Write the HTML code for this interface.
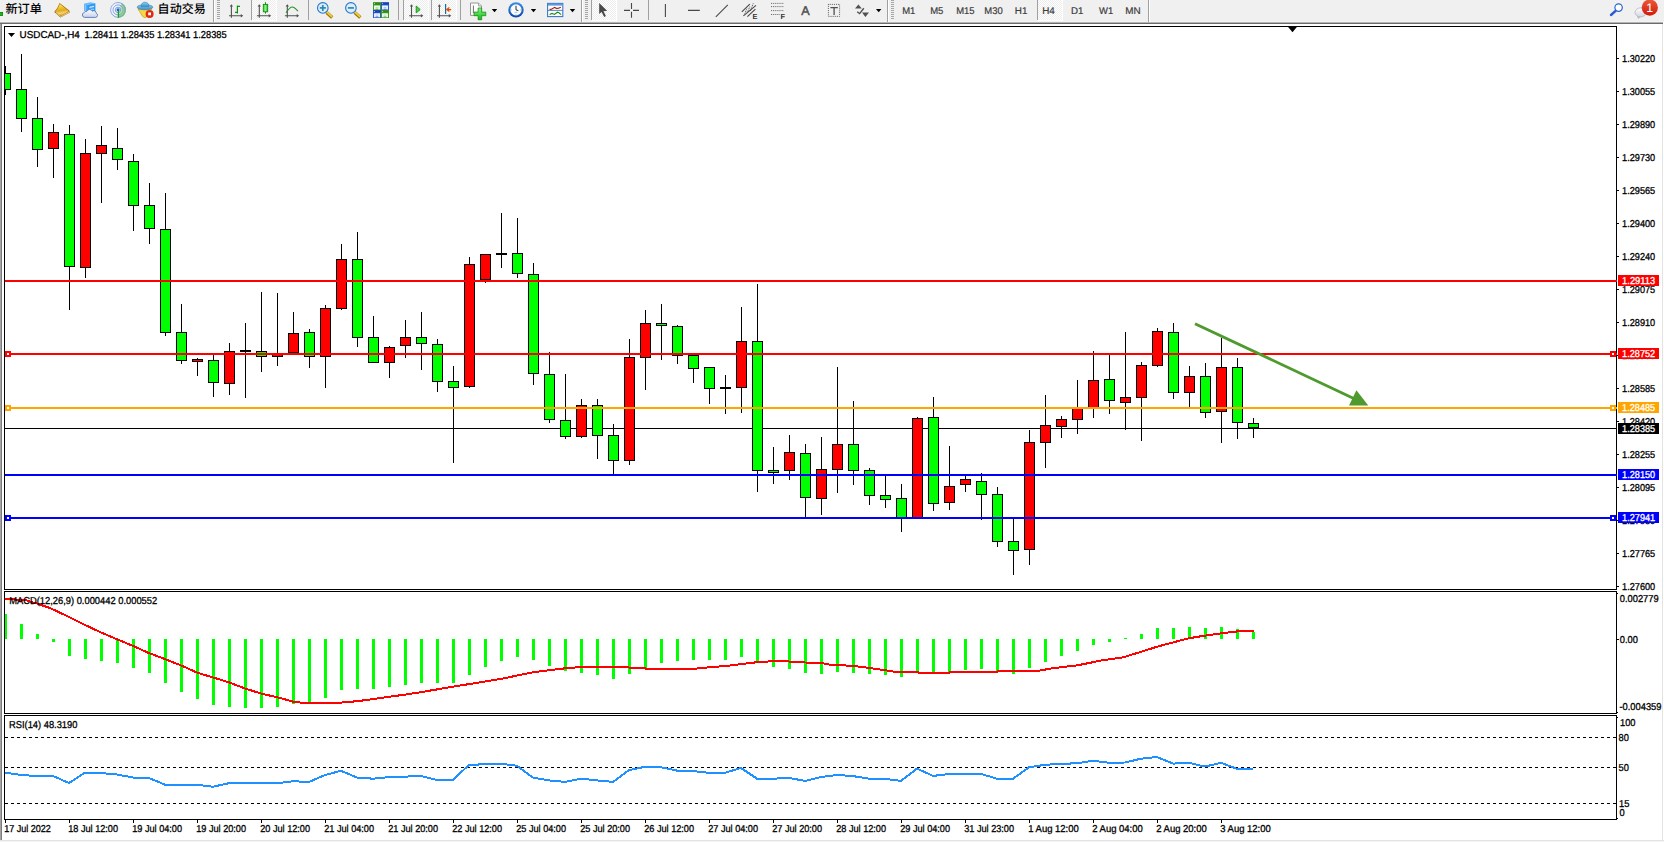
<!DOCTYPE html>
<html lang="zh-CN"><head><meta charset="utf-8"><title>USDCAD-,H4</title>
<style>html,body{margin:0;padding:0;background:#fff;overflow:hidden}svg{display:block}text{font-family:"Liberation Sans","Noto Sans CJK SC",sans-serif;white-space:pre;text-rendering:geometricPrecision}.cj{font-family:"Liberation Sans","Noto Sans CJK SC",sans-serif}</style></head><body>
<svg width="1664" height="842" viewBox="0 0 1664 842">
<rect x="0" y="0" width="1664" height="842" fill="#fff"/>
<g shape-rendering="crispEdges">
<rect x="0" y="24" width="1" height="816" fill="#a4a4a4"/>
<rect x="1" y="24" width="1" height="816" fill="#7c7c7c"/>
<rect x="1662" y="24" width="1" height="816" fill="#e3e3e3"/>
<rect x="0" y="840" width="1664" height="1" fill="#e3e3e3"/>
<rect x="0" y="841" width="1664" height="1" fill="#f4f4f4"/>
<rect x="4" y="26" width="1613" height="1" fill="#000"/>
<rect x="4" y="589" width="1613" height="1" fill="#000"/>
<rect x="4" y="26" width="1" height="564" fill="#000"/>
<rect x="1616" y="26" width="1" height="564" fill="#000"/>
<rect x="4" y="591" width="1613" height="1" fill="#000"/>
<rect x="4" y="713" width="1613" height="1" fill="#000"/>
<rect x="4" y="591" width="1" height="123" fill="#000"/>
<rect x="1616" y="591" width="1" height="123" fill="#000"/>
<rect x="4" y="715" width="1613" height="1" fill="#000"/>
<rect x="4" y="819" width="1613" height="1" fill="#000"/>
<rect x="4" y="715" width="1" height="105" fill="#000"/>
<rect x="1616" y="715" width="1" height="105" fill="#000"/>
<clipPath id="cm"><rect x="5" y="27" width="1611" height="562"/></clipPath>
<g clip-path="url(#cm)">
<rect x="5" y="428" width="1611" height="1" fill="#000"/>
<rect x="5" y="66" width="1" height="29" fill="#000"/>
<rect x="0" y="73" width="11" height="17" fill="#000"/>
<rect x="1" y="74" width="9" height="15" fill="#00ff00"/>
<rect x="21" y="54" width="1" height="78" fill="#000"/>
<rect x="16" y="89" width="11" height="30" fill="#000"/>
<rect x="17" y="90" width="9" height="28" fill="#00ff00"/>
<rect x="37" y="97" width="1" height="70" fill="#000"/>
<rect x="32" y="118" width="11" height="32" fill="#000"/>
<rect x="33" y="119" width="9" height="30" fill="#00ff00"/>
<rect x="53" y="124" width="1" height="54" fill="#000"/>
<rect x="48" y="132" width="11" height="17" fill="#000"/>
<rect x="49" y="133" width="9" height="15" fill="#ff0000"/>
<rect x="69" y="125" width="1" height="185" fill="#000"/>
<rect x="64" y="134" width="11" height="133" fill="#000"/>
<rect x="65" y="135" width="9" height="131" fill="#00ff00"/>
<rect x="85" y="139" width="1" height="139" fill="#000"/>
<rect x="80" y="153" width="11" height="115" fill="#000"/>
<rect x="81" y="154" width="9" height="113" fill="#ff0000"/>
<rect x="101" y="126" width="1" height="77" fill="#000"/>
<rect x="96" y="145" width="11" height="9" fill="#000"/>
<rect x="97" y="146" width="9" height="7" fill="#ff0000"/>
<rect x="117" y="128" width="1" height="42" fill="#000"/>
<rect x="112" y="148" width="11" height="12" fill="#000"/>
<rect x="113" y="149" width="9" height="10" fill="#00ff00"/>
<rect x="133" y="154" width="1" height="77" fill="#000"/>
<rect x="128" y="161" width="11" height="45" fill="#000"/>
<rect x="129" y="162" width="9" height="43" fill="#00ff00"/>
<rect x="149" y="183" width="1" height="61" fill="#000"/>
<rect x="144" y="205" width="11" height="24" fill="#000"/>
<rect x="145" y="206" width="9" height="22" fill="#00ff00"/>
<rect x="165" y="193" width="1" height="143" fill="#000"/>
<rect x="160" y="229" width="11" height="104" fill="#000"/>
<rect x="161" y="230" width="9" height="102" fill="#00ff00"/>
<rect x="181" y="304" width="1" height="60" fill="#000"/>
<rect x="176" y="332" width="11" height="29" fill="#000"/>
<rect x="177" y="333" width="9" height="27" fill="#00ff00"/>
<rect x="197" y="358" width="1" height="18" fill="#000"/>
<rect x="192" y="359" width="11" height="3" fill="#000"/>
<rect x="193" y="360" width="9" height="1" fill="#ff0000"/>
<rect x="213" y="355" width="1" height="42" fill="#000"/>
<rect x="208" y="360" width="11" height="23" fill="#000"/>
<rect x="209" y="361" width="9" height="21" fill="#00ff00"/>
<rect x="229" y="343" width="1" height="52" fill="#000"/>
<rect x="224" y="351" width="11" height="33" fill="#000"/>
<rect x="225" y="352" width="9" height="31" fill="#ff0000"/>
<rect x="245" y="323" width="1" height="75" fill="#000"/>
<rect x="240" y="350" width="11" height="2" fill="#000"/>
<rect x="261" y="292" width="1" height="80" fill="#000"/>
<rect x="256" y="351" width="11" height="6" fill="#000"/>
<rect x="257" y="352" width="9" height="4" fill="#00ff00"/>
<rect x="277" y="293" width="1" height="73" fill="#000"/>
<rect x="272" y="354" width="11" height="3" fill="#000"/>
<rect x="273" y="355" width="9" height="1" fill="#ff0000"/>
<rect x="293" y="312" width="1" height="41" fill="#000"/>
<rect x="288" y="333" width="11" height="20" fill="#000"/>
<rect x="289" y="334" width="9" height="18" fill="#ff0000"/>
<rect x="309" y="329" width="1" height="39" fill="#000"/>
<rect x="304" y="332" width="11" height="25" fill="#000"/>
<rect x="305" y="333" width="9" height="23" fill="#00ff00"/>
<rect x="325" y="305" width="1" height="83" fill="#000"/>
<rect x="320" y="308" width="11" height="49" fill="#000"/>
<rect x="321" y="309" width="9" height="47" fill="#ff0000"/>
<rect x="341" y="244" width="1" height="66" fill="#000"/>
<rect x="336" y="259" width="11" height="50" fill="#000"/>
<rect x="337" y="260" width="9" height="48" fill="#ff0000"/>
<rect x="357" y="232" width="1" height="115" fill="#000"/>
<rect x="352" y="259" width="11" height="79" fill="#000"/>
<rect x="353" y="260" width="9" height="77" fill="#00ff00"/>
<rect x="373" y="316" width="1" height="47" fill="#000"/>
<rect x="368" y="337" width="11" height="26" fill="#000"/>
<rect x="369" y="338" width="9" height="24" fill="#00ff00"/>
<rect x="389" y="346" width="1" height="32" fill="#000"/>
<rect x="384" y="347" width="11" height="16" fill="#000"/>
<rect x="385" y="348" width="9" height="14" fill="#ff0000"/>
<rect x="405" y="320" width="1" height="38" fill="#000"/>
<rect x="400" y="337" width="11" height="9" fill="#000"/>
<rect x="401" y="338" width="9" height="7" fill="#ff0000"/>
<rect x="421" y="312" width="1" height="58" fill="#000"/>
<rect x="416" y="337" width="11" height="7" fill="#000"/>
<rect x="417" y="338" width="9" height="5" fill="#00ff00"/>
<rect x="437" y="339" width="1" height="53" fill="#000"/>
<rect x="432" y="344" width="11" height="38" fill="#000"/>
<rect x="433" y="345" width="9" height="36" fill="#00ff00"/>
<rect x="453" y="366" width="1" height="97" fill="#000"/>
<rect x="448" y="381" width="11" height="7" fill="#000"/>
<rect x="449" y="382" width="9" height="5" fill="#00ff00"/>
<rect x="469" y="257" width="1" height="131" fill="#000"/>
<rect x="464" y="264" width="11" height="123" fill="#000"/>
<rect x="465" y="265" width="9" height="121" fill="#ff0000"/>
<rect x="485" y="254" width="1" height="29" fill="#000"/>
<rect x="480" y="254" width="11" height="26" fill="#000"/>
<rect x="481" y="255" width="9" height="24" fill="#ff0000"/>
<rect x="501" y="213" width="1" height="55" fill="#000"/>
<rect x="496" y="253" width="11" height="2" fill="#000"/>
<rect x="517" y="218" width="1" height="60" fill="#000"/>
<rect x="512" y="253" width="11" height="21" fill="#000"/>
<rect x="513" y="254" width="9" height="19" fill="#00ff00"/>
<rect x="533" y="263" width="1" height="122" fill="#000"/>
<rect x="528" y="274" width="11" height="100" fill="#000"/>
<rect x="529" y="275" width="9" height="98" fill="#00ff00"/>
<rect x="549" y="352" width="1" height="71" fill="#000"/>
<rect x="544" y="374" width="11" height="46" fill="#000"/>
<rect x="545" y="375" width="9" height="44" fill="#00ff00"/>
<rect x="565" y="374" width="1" height="65" fill="#000"/>
<rect x="560" y="420" width="11" height="17" fill="#000"/>
<rect x="561" y="421" width="9" height="15" fill="#00ff00"/>
<rect x="581" y="399" width="1" height="39" fill="#000"/>
<rect x="576" y="405" width="11" height="32" fill="#000"/>
<rect x="577" y="406" width="9" height="30" fill="#ff0000"/>
<rect x="597" y="399" width="1" height="60" fill="#000"/>
<rect x="592" y="405" width="11" height="31" fill="#000"/>
<rect x="593" y="406" width="9" height="29" fill="#00ff00"/>
<rect x="613" y="424" width="1" height="50" fill="#000"/>
<rect x="608" y="435" width="11" height="26" fill="#000"/>
<rect x="609" y="436" width="9" height="24" fill="#00ff00"/>
<rect x="629" y="339" width="1" height="126" fill="#000"/>
<rect x="624" y="357" width="11" height="104" fill="#000"/>
<rect x="625" y="358" width="9" height="102" fill="#ff0000"/>
<rect x="645" y="310" width="1" height="80" fill="#000"/>
<rect x="640" y="323" width="11" height="35" fill="#000"/>
<rect x="641" y="324" width="9" height="33" fill="#ff0000"/>
<rect x="661" y="304" width="1" height="56" fill="#000"/>
<rect x="656" y="323" width="11" height="3" fill="#000"/>
<rect x="657" y="324" width="9" height="1" fill="#00ff00"/>
<rect x="677" y="325" width="1" height="39" fill="#000"/>
<rect x="672" y="326" width="11" height="30" fill="#000"/>
<rect x="673" y="327" width="9" height="28" fill="#00ff00"/>
<rect x="693" y="355" width="1" height="28" fill="#000"/>
<rect x="688" y="355" width="11" height="14" fill="#000"/>
<rect x="689" y="356" width="9" height="12" fill="#00ff00"/>
<rect x="709" y="367" width="1" height="37" fill="#000"/>
<rect x="704" y="367" width="11" height="22" fill="#000"/>
<rect x="705" y="368" width="9" height="20" fill="#00ff00"/>
<rect x="725" y="375" width="1" height="39" fill="#000"/>
<rect x="720" y="387" width="11" height="2" fill="#000"/>
<rect x="741" y="307" width="1" height="106" fill="#000"/>
<rect x="736" y="341" width="11" height="47" fill="#000"/>
<rect x="737" y="342" width="9" height="45" fill="#ff0000"/>
<rect x="757" y="284" width="1" height="208" fill="#000"/>
<rect x="752" y="341" width="11" height="130" fill="#000"/>
<rect x="753" y="342" width="9" height="128" fill="#00ff00"/>
<rect x="773" y="447" width="1" height="37" fill="#000"/>
<rect x="768" y="470" width="11" height="3" fill="#000"/>
<rect x="769" y="471" width="9" height="1" fill="#00ff00"/>
<rect x="789" y="435" width="1" height="45" fill="#000"/>
<rect x="784" y="452" width="11" height="19" fill="#000"/>
<rect x="785" y="453" width="9" height="17" fill="#ff0000"/>
<rect x="805" y="444" width="1" height="73" fill="#000"/>
<rect x="800" y="453" width="11" height="45" fill="#000"/>
<rect x="801" y="454" width="9" height="43" fill="#00ff00"/>
<rect x="821" y="437" width="1" height="78" fill="#000"/>
<rect x="816" y="469" width="11" height="30" fill="#000"/>
<rect x="817" y="470" width="9" height="28" fill="#ff0000"/>
<rect x="837" y="367" width="1" height="126" fill="#000"/>
<rect x="832" y="444" width="11" height="26" fill="#000"/>
<rect x="833" y="445" width="9" height="24" fill="#ff0000"/>
<rect x="853" y="401" width="1" height="84" fill="#000"/>
<rect x="848" y="444" width="11" height="27" fill="#000"/>
<rect x="849" y="445" width="9" height="25" fill="#00ff00"/>
<rect x="869" y="468" width="1" height="37" fill="#000"/>
<rect x="864" y="470" width="11" height="26" fill="#000"/>
<rect x="865" y="471" width="9" height="24" fill="#00ff00"/>
<rect x="885" y="475" width="1" height="33" fill="#000"/>
<rect x="880" y="495" width="11" height="5" fill="#000"/>
<rect x="881" y="496" width="9" height="3" fill="#00ff00"/>
<rect x="901" y="484" width="1" height="48" fill="#000"/>
<rect x="896" y="498" width="11" height="20" fill="#000"/>
<rect x="897" y="499" width="9" height="18" fill="#00ff00"/>
<rect x="917" y="417" width="1" height="101" fill="#000"/>
<rect x="912" y="418" width="11" height="100" fill="#000"/>
<rect x="913" y="419" width="9" height="98" fill="#ff0000"/>
<rect x="933" y="397" width="1" height="114" fill="#000"/>
<rect x="928" y="417" width="11" height="87" fill="#000"/>
<rect x="929" y="418" width="9" height="85" fill="#00ff00"/>
<rect x="949" y="446" width="1" height="64" fill="#000"/>
<rect x="944" y="486" width="11" height="17" fill="#000"/>
<rect x="945" y="487" width="9" height="15" fill="#ff0000"/>
<rect x="965" y="476" width="1" height="16" fill="#000"/>
<rect x="960" y="479" width="11" height="6" fill="#000"/>
<rect x="961" y="480" width="9" height="4" fill="#ff0000"/>
<rect x="981" y="473" width="1" height="47" fill="#000"/>
<rect x="976" y="481" width="11" height="14" fill="#000"/>
<rect x="977" y="482" width="9" height="12" fill="#00ff00"/>
<rect x="997" y="487" width="1" height="60" fill="#000"/>
<rect x="992" y="494" width="11" height="48" fill="#000"/>
<rect x="993" y="495" width="9" height="46" fill="#00ff00"/>
<rect x="1013" y="519" width="1" height="56" fill="#000"/>
<rect x="1008" y="541" width="11" height="10" fill="#000"/>
<rect x="1009" y="542" width="9" height="8" fill="#00ff00"/>
<rect x="1029" y="430" width="1" height="135" fill="#000"/>
<rect x="1024" y="442" width="11" height="108" fill="#000"/>
<rect x="1025" y="443" width="9" height="106" fill="#ff0000"/>
<rect x="1045" y="395" width="1" height="73" fill="#000"/>
<rect x="1040" y="425" width="11" height="18" fill="#000"/>
<rect x="1041" y="426" width="9" height="16" fill="#ff0000"/>
<rect x="1061" y="416" width="1" height="22" fill="#000"/>
<rect x="1056" y="419" width="11" height="8" fill="#000"/>
<rect x="1057" y="420" width="9" height="6" fill="#ff0000"/>
<rect x="1077" y="380" width="1" height="54" fill="#000"/>
<rect x="1072" y="408" width="11" height="12" fill="#000"/>
<rect x="1073" y="409" width="9" height="10" fill="#ff0000"/>
<rect x="1093" y="351" width="1" height="67" fill="#000"/>
<rect x="1088" y="380" width="11" height="28" fill="#000"/>
<rect x="1089" y="381" width="9" height="26" fill="#ff0000"/>
<rect x="1109" y="355" width="1" height="59" fill="#000"/>
<rect x="1104" y="379" width="11" height="22" fill="#000"/>
<rect x="1105" y="380" width="9" height="20" fill="#00ff00"/>
<rect x="1125" y="332" width="1" height="98" fill="#000"/>
<rect x="1120" y="397" width="11" height="6" fill="#000"/>
<rect x="1121" y="398" width="9" height="4" fill="#ff0000"/>
<rect x="1141" y="362" width="1" height="79" fill="#000"/>
<rect x="1136" y="365" width="11" height="33" fill="#000"/>
<rect x="1137" y="366" width="9" height="31" fill="#ff0000"/>
<rect x="1157" y="328" width="1" height="39" fill="#000"/>
<rect x="1152" y="331" width="11" height="35" fill="#000"/>
<rect x="1153" y="332" width="9" height="33" fill="#ff0000"/>
<rect x="1173" y="323" width="1" height="76" fill="#000"/>
<rect x="1168" y="332" width="11" height="61" fill="#000"/>
<rect x="1169" y="333" width="9" height="59" fill="#00ff00"/>
<rect x="1189" y="366" width="1" height="41" fill="#000"/>
<rect x="1184" y="376" width="11" height="17" fill="#000"/>
<rect x="1185" y="377" width="9" height="15" fill="#ff0000"/>
<rect x="1205" y="363" width="1" height="55" fill="#000"/>
<rect x="1200" y="376" width="11" height="37" fill="#000"/>
<rect x="1201" y="377" width="9" height="35" fill="#00ff00"/>
<rect x="1221" y="338" width="1" height="105" fill="#000"/>
<rect x="1216" y="367" width="11" height="45" fill="#000"/>
<rect x="1217" y="368" width="9" height="43" fill="#ff0000"/>
<rect x="1237" y="358" width="1" height="81" fill="#000"/>
<rect x="1232" y="367" width="11" height="56" fill="#000"/>
<rect x="1233" y="368" width="9" height="54" fill="#00ff00"/>
<rect x="1253" y="418" width="1" height="20" fill="#000"/>
<rect x="1248" y="423" width="11" height="5" fill="#000"/>
<rect x="1249" y="424" width="9" height="3" fill="#00ff00"/>
</g>
<rect x="5" y="280" width="1612" height="2" fill="#ff0000"/>
<rect x="5" y="353" width="1612" height="2" fill="#ff0000"/>
<rect x="5" y="351" width="6" height="6" fill="#ff0000"/>
<rect x="7" y="353" width="2" height="2" fill="#fff"/>
<rect x="1610" y="351" width="6" height="6" fill="#ff0000"/>
<rect x="1612" y="353" width="2" height="2" fill="#fff"/>
<rect x="5" y="407" width="1612" height="2" fill="#ffa500"/>
<rect x="5" y="405" width="6" height="6" fill="#ffa500"/>
<rect x="7" y="407" width="2" height="2" fill="#fff"/>
<rect x="1610" y="405" width="6" height="6" fill="#ffa500"/>
<rect x="1612" y="407" width="2" height="2" fill="#fff"/>
<rect x="5" y="474" width="1612" height="2" fill="#0000ff"/>
<rect x="5" y="517" width="1612" height="2" fill="#0000ff"/>
<rect x="5" y="515" width="6" height="6" fill="#0000ff"/>
<rect x="7" y="517" width="2" height="2" fill="#fff"/>
<rect x="1610" y="515" width="6" height="6" fill="#0000ff"/>
<rect x="1612" y="517" width="2" height="2" fill="#fff"/>
<path d="M1287.7 26.6H1297.3L1292.5 32.2Z" fill="#000" shape-rendering="geometricPrecision"/>
<rect x="1617" y="58" width="2" height="1" fill="#000"/>
<rect x="1617" y="91" width="2" height="1" fill="#000"/>
<rect x="1617" y="124" width="2" height="1" fill="#000"/>
<rect x="1617" y="157" width="2" height="1" fill="#000"/>
<rect x="1617" y="190" width="2" height="1" fill="#000"/>
<rect x="1617" y="223" width="2" height="1" fill="#000"/>
<rect x="1617" y="256" width="2" height="1" fill="#000"/>
<rect x="1617" y="289" width="2" height="1" fill="#000"/>
<rect x="1617" y="322" width="2" height="1" fill="#000"/>
<rect x="1617" y="355" width="2" height="1" fill="#000"/>
<rect x="1617" y="388" width="2" height="1" fill="#000"/>
<rect x="1617" y="421" width="2" height="1" fill="#000"/>
<rect x="1617" y="454" width="2" height="1" fill="#000"/>
<rect x="1617" y="487" width="2" height="1" fill="#000"/>
<rect x="1617" y="520" width="2" height="1" fill="#000"/>
<rect x="1617" y="553" width="2" height="1" fill="#000"/>
<rect x="1617" y="586" width="2" height="1" fill="#000"/>
<rect x="5" y="614" width="2" height="25" fill="#00ff00"/>
<rect x="20" y="624" width="3" height="15" fill="#00ff00"/>
<rect x="36" y="634" width="3" height="5" fill="#00ff00"/>
<rect x="52" y="639" width="3" height="3" fill="#00ff00"/>
<rect x="68" y="639" width="3" height="17" fill="#00ff00"/>
<rect x="84" y="639" width="3" height="20" fill="#00ff00"/>
<rect x="100" y="639" width="3" height="22" fill="#00ff00"/>
<rect x="116" y="639" width="3" height="24" fill="#00ff00"/>
<rect x="132" y="639" width="3" height="29" fill="#00ff00"/>
<rect x="148" y="639" width="3" height="34" fill="#00ff00"/>
<rect x="164" y="639" width="3" height="44" fill="#00ff00"/>
<rect x="180" y="639" width="3" height="53" fill="#00ff00"/>
<rect x="196" y="639" width="3" height="60" fill="#00ff00"/>
<rect x="212" y="639" width="3" height="66" fill="#00ff00"/>
<rect x="228" y="639" width="3" height="68" fill="#00ff00"/>
<rect x="244" y="639" width="3" height="69" fill="#00ff00"/>
<rect x="260" y="639" width="3" height="69" fill="#00ff00"/>
<rect x="276" y="639" width="3" height="68" fill="#00ff00"/>
<rect x="292" y="639" width="3" height="65" fill="#00ff00"/>
<rect x="308" y="639" width="3" height="64" fill="#00ff00"/>
<rect x="324" y="639" width="3" height="59" fill="#00ff00"/>
<rect x="340" y="639" width="3" height="51" fill="#00ff00"/>
<rect x="356" y="639" width="3" height="50" fill="#00ff00"/>
<rect x="372" y="639" width="3" height="50" fill="#00ff00"/>
<rect x="388" y="639" width="3" height="48" fill="#00ff00"/>
<rect x="404" y="639" width="3" height="46" fill="#00ff00"/>
<rect x="420" y="639" width="3" height="44" fill="#00ff00"/>
<rect x="436" y="639" width="3" height="44" fill="#00ff00"/>
<rect x="452" y="639" width="3" height="44" fill="#00ff00"/>
<rect x="468" y="639" width="3" height="36" fill="#00ff00"/>
<rect x="484" y="639" width="3" height="28" fill="#00ff00"/>
<rect x="500" y="639" width="3" height="22" fill="#00ff00"/>
<rect x="516" y="639" width="3" height="18" fill="#00ff00"/>
<rect x="532" y="639" width="3" height="21" fill="#00ff00"/>
<rect x="548" y="639" width="3" height="27" fill="#00ff00"/>
<rect x="564" y="639" width="3" height="32" fill="#00ff00"/>
<rect x="580" y="639" width="3" height="34" fill="#00ff00"/>
<rect x="596" y="639" width="3" height="36" fill="#00ff00"/>
<rect x="612" y="639" width="3" height="40" fill="#00ff00"/>
<rect x="628" y="639" width="3" height="35" fill="#00ff00"/>
<rect x="644" y="639" width="3" height="30" fill="#00ff00"/>
<rect x="660" y="639" width="3" height="24" fill="#00ff00"/>
<rect x="676" y="639" width="3" height="22" fill="#00ff00"/>
<rect x="692" y="639" width="3" height="21" fill="#00ff00"/>
<rect x="708" y="639" width="3" height="21" fill="#00ff00"/>
<rect x="724" y="639" width="3" height="21" fill="#00ff00"/>
<rect x="740" y="639" width="3" height="18" fill="#00ff00"/>
<rect x="756" y="639" width="3" height="24" fill="#00ff00"/>
<rect x="772" y="639" width="3" height="28" fill="#00ff00"/>
<rect x="788" y="639" width="3" height="30" fill="#00ff00"/>
<rect x="804" y="639" width="3" height="34" fill="#00ff00"/>
<rect x="820" y="639" width="3" height="35" fill="#00ff00"/>
<rect x="836" y="639" width="3" height="33" fill="#00ff00"/>
<rect x="852" y="639" width="3" height="34" fill="#00ff00"/>
<rect x="868" y="639" width="3" height="35" fill="#00ff00"/>
<rect x="884" y="639" width="3" height="36" fill="#00ff00"/>
<rect x="900" y="639" width="3" height="38" fill="#00ff00"/>
<rect x="916" y="639" width="3" height="34" fill="#00ff00"/>
<rect x="932" y="639" width="3" height="33" fill="#00ff00"/>
<rect x="948" y="639" width="3" height="33" fill="#00ff00"/>
<rect x="964" y="639" width="3" height="31" fill="#00ff00"/>
<rect x="980" y="639" width="3" height="30" fill="#00ff00"/>
<rect x="996" y="639" width="3" height="33" fill="#00ff00"/>
<rect x="1012" y="639" width="3" height="35" fill="#00ff00"/>
<rect x="1028" y="639" width="3" height="29" fill="#00ff00"/>
<rect x="1044" y="639" width="3" height="23" fill="#00ff00"/>
<rect x="1060" y="639" width="3" height="17" fill="#00ff00"/>
<rect x="1076" y="639" width="3" height="12" fill="#00ff00"/>
<rect x="1092" y="639" width="3" height="6" fill="#00ff00"/>
<rect x="1108" y="639" width="3" height="3" fill="#00ff00"/>
<rect x="1124" y="638" width="3" height="1" fill="#00ff00"/>
<rect x="1140" y="634" width="3" height="5" fill="#00ff00"/>
<rect x="1156" y="628" width="3" height="11" fill="#00ff00"/>
<rect x="1172" y="628" width="3" height="11" fill="#00ff00"/>
<rect x="1188" y="627" width="3" height="12" fill="#00ff00"/>
<rect x="1204" y="628" width="3" height="11" fill="#00ff00"/>
<rect x="1220" y="627" width="3" height="12" fill="#00ff00"/>
<rect x="1236" y="629" width="3" height="10" fill="#00ff00"/>
<rect x="1252" y="632" width="3" height="7" fill="#00ff00"/>
<rect x="1617" y="593" width="1" height="1" fill="#000"/>
<rect x="1617" y="639" width="2" height="1" fill="#000"/>
<rect x="1617" y="712" width="1" height="1" fill="#000"/>
<path d="M5 737.5H1616" stroke="#000" stroke-width="1" stroke-dasharray="3 3" fill="none"/>
<path d="M5 767.5H1616" stroke="#000" stroke-width="1" stroke-dasharray="3 3" fill="none"/>
<path d="M5 803.5H1616" stroke="#000" stroke-width="1" stroke-dasharray="3 3" fill="none"/>
<rect x="1617" y="717" width="1" height="1" fill="#000"/>
<rect x="1617" y="818" width="1" height="1" fill="#000"/>
<rect x="5" y="820" width="1" height="3" fill="#000"/>
<rect x="69" y="820" width="1" height="3" fill="#000"/>
<rect x="133" y="820" width="1" height="3" fill="#000"/>
<rect x="197" y="820" width="1" height="3" fill="#000"/>
<rect x="261" y="820" width="1" height="3" fill="#000"/>
<rect x="325" y="820" width="1" height="3" fill="#000"/>
<rect x="389" y="820" width="1" height="3" fill="#000"/>
<rect x="453" y="820" width="1" height="3" fill="#000"/>
<rect x="517" y="820" width="1" height="3" fill="#000"/>
<rect x="581" y="820" width="1" height="3" fill="#000"/>
<rect x="645" y="820" width="1" height="3" fill="#000"/>
<rect x="709" y="820" width="1" height="3" fill="#000"/>
<rect x="773" y="820" width="1" height="3" fill="#000"/>
<rect x="837" y="820" width="1" height="3" fill="#000"/>
<rect x="901" y="820" width="1" height="3" fill="#000"/>
<rect x="965" y="820" width="1" height="3" fill="#000"/>
<rect x="1029" y="820" width="1" height="3" fill="#000"/>
<rect x="1093" y="820" width="1" height="3" fill="#000"/>
<rect x="1157" y="820" width="1" height="3" fill="#000"/>
<rect x="1221" y="820" width="1" height="3" fill="#000"/>
</g>
<polyline fill="none" stroke="#ff0000" stroke-width="2" stroke-linejoin="round" shape-rendering="crispEdges" points="5,599 25,600 38,603.9 50.5,608.2 68,616.5 86,625.4 101,632.5 116,638.8 134,646.3 149,653.1 164,658.7 182,665.8 197,672.6 214.5,677.9 230,682.7 245,688.5 262.5,694 277.6,697.3 292.8,701.6 303,702.9 338,702.9 358,701.1 373.5,699.1 388.7,696.8 404,694.8 420,692.3 453,686.7 501,678.9 533.8,672.1 565.3,668.3 581.7,667 628.4,667 629.7,668 644.8,668 646,669 692.8,669 709,667.3 725.6,666 757,662.2 773.5,661.2 788.7,661.2 790,662 805,662.5 820,662.7 830,664.8 853,665.8 868,667.8 886,670.3 894.6,671.8 917.4,671.8 918.6,672.8 949,672.8 950,671.8 996.9,671.8 998,671 1037,671 1052.4,668.3 1077.6,665.3 1102.9,660.2 1123,657.4 1140.7,651.9 1158.4,646.3 1188.7,638.3 1205,635.6 1222,633.2 1237.4,631.4 1238,630.8 1253.6,630.8"/>
<polyline fill="none" stroke="#1e90ff" stroke-width="2" stroke-linejoin="round" shape-rendering="crispEdges" points="5,772.6 21,775 37,776 53,776 69,783 85,772.6 101,773 117,774.5 133,777.5 149,778 165,784.7 181,784.7 197,784.7 213,786.7 229,783.2 245,783.2 261,783.2 277,783.2 293,781.2 309,782 325,775 341,770.8 357,777.5 373,778.7 389,777.1 405,776.6 421,776.1 437,779.9 453,779.9 469,764.8 485,764.3 501,763.8 517,765.8 533,777.6 549,780.4 565,781.9 581,778.7 597,780.4 613,781.9 629,770.1 645,766.8 661,767.3 677,770.6 693,771.1 709,772.8 725,772.8 741,768 757,778.7 773,778.7 789,777.9 805,780.9 821,777.1 837,774.9 853,776.1 869,778.7 885,778.9 901,780.9 917,768.6 933,775.9 949,774.1 965,773.9 981,773.9 997,778.7 1013,778.7 1029,767.3 1045,764.8 1061,763.8 1077,763.3 1093,760.7 1109,762.8 1125,762.5 1141,758.7 1157,757 1173,763.6 1189,762.8 1205,766.6 1221,762.8 1237,768.8 1253,768.8"/>
<g fill="#4f9a2f" stroke="none"><path d="M1194.38 325.01L1195.62 322.39L1354.92 397.39L1353.68 400.01Z"/><path d="M1356.4 390.3L1368.3 405.6L1349 405.6Z"/></g>
<path d="M8 33H15L11.5 37Z" fill="#000"/>
<text x="19.6" y="38" font-size="10" fill="#000" stroke="#000" stroke-width="0.3" textLength="60.2" lengthAdjust="spacingAndGlyphs">USDCAD-,H4</text>
<text x="84.6" y="38" font-size="10" fill="#000" stroke="#000" stroke-width="0.3" textLength="33.6" lengthAdjust="spacingAndGlyphs">1.28411</text>
<text x="120.75" y="38" font-size="10" fill="#000" stroke="#000" stroke-width="0.3" textLength="33.6" lengthAdjust="spacingAndGlyphs">1.28435</text>
<text x="156.89999999999998" y="38" font-size="10" fill="#000" stroke="#000" stroke-width="0.3" textLength="33.6" lengthAdjust="spacingAndGlyphs">1.28341</text>
<text x="193.04999999999998" y="38" font-size="10" fill="#000" stroke="#000" stroke-width="0.3" textLength="33.6" lengthAdjust="spacingAndGlyphs">1.28385</text>
<text x="9.2" y="604" font-size="10" fill="#000" stroke="#000" stroke-width="0.3" textLength="148" lengthAdjust="spacingAndGlyphs">MACD(12,26,9) 0.000442 0.000552</text>
<text x="9.0" y="728" font-size="10" fill="#000" stroke="#000" stroke-width="0.3" textLength="68.4" lengthAdjust="spacingAndGlyphs">RSI(14) 48.3190</text>
<text x="1622.1" y="62" font-size="10" fill="#000" stroke="#000" stroke-width="0.3" textLength="33.1" lengthAdjust="spacingAndGlyphs">1.30220</text>
<text x="1622.1" y="95" font-size="10" fill="#000" stroke="#000" stroke-width="0.3" textLength="33.1" lengthAdjust="spacingAndGlyphs">1.30055</text>
<text x="1622.1" y="128" font-size="10" fill="#000" stroke="#000" stroke-width="0.3" textLength="33.1" lengthAdjust="spacingAndGlyphs">1.29890</text>
<text x="1622.1" y="161" font-size="10" fill="#000" stroke="#000" stroke-width="0.3" textLength="33.1" lengthAdjust="spacingAndGlyphs">1.29730</text>
<text x="1622.1" y="194" font-size="10" fill="#000" stroke="#000" stroke-width="0.3" textLength="33.1" lengthAdjust="spacingAndGlyphs">1.29565</text>
<text x="1622.1" y="227" font-size="10" fill="#000" stroke="#000" stroke-width="0.3" textLength="33.1" lengthAdjust="spacingAndGlyphs">1.29400</text>
<text x="1622.1" y="260" font-size="10" fill="#000" stroke="#000" stroke-width="0.3" textLength="33.1" lengthAdjust="spacingAndGlyphs">1.29240</text>
<text x="1622.1" y="293" font-size="10" fill="#000" stroke="#000" stroke-width="0.3" textLength="33.1" lengthAdjust="spacingAndGlyphs">1.29075</text>
<text x="1622.1" y="326" font-size="10" fill="#000" stroke="#000" stroke-width="0.3" textLength="33.1" lengthAdjust="spacingAndGlyphs">1.28910</text>
<text x="1622.1" y="359" font-size="10" fill="#000" stroke="#000" stroke-width="0.3" textLength="33.1" lengthAdjust="spacingAndGlyphs">1.28750</text>
<text x="1622.1" y="392" font-size="10" fill="#000" stroke="#000" stroke-width="0.3" textLength="33.1" lengthAdjust="spacingAndGlyphs">1.28585</text>
<text x="1622.1" y="425" font-size="10" fill="#000" stroke="#000" stroke-width="0.3" textLength="33.1" lengthAdjust="spacingAndGlyphs">1.28420</text>
<text x="1622.1" y="458" font-size="10" fill="#000" stroke="#000" stroke-width="0.3" textLength="33.1" lengthAdjust="spacingAndGlyphs">1.28255</text>
<text x="1622.1" y="491" font-size="10" fill="#000" stroke="#000" stroke-width="0.3" textLength="33.1" lengthAdjust="spacingAndGlyphs">1.28095</text>
<text x="1622.1" y="524" font-size="10" fill="#000" stroke="#000" stroke-width="0.3" textLength="33.1" lengthAdjust="spacingAndGlyphs">1.27930</text>
<text x="1622.1" y="557" font-size="10" fill="#000" stroke="#000" stroke-width="0.3" textLength="33.1" lengthAdjust="spacingAndGlyphs">1.27765</text>
<text x="1622.1" y="590" font-size="10" fill="#000" stroke="#000" stroke-width="0.3" textLength="33.1" lengthAdjust="spacingAndGlyphs">1.27600</text>
<rect x="1618" y="275" width="41" height="11" fill="#ff0000" shape-rendering="crispEdges"/>
<text x="1622.1" y="284" font-size="10" fill="#fff" stroke="#fff" stroke-width="0.3" textLength="33.1" lengthAdjust="spacingAndGlyphs">1.29113</text>
<rect x="1618" y="348" width="41" height="11" fill="#ff0000" shape-rendering="crispEdges"/>
<text x="1622.1" y="357" font-size="10" fill="#fff" stroke="#fff" stroke-width="0.3" textLength="33.1" lengthAdjust="spacingAndGlyphs">1.28752</text>
<rect x="1618" y="402" width="41" height="11" fill="#ffa500" shape-rendering="crispEdges"/>
<text x="1622.1" y="411" font-size="10" fill="#fff" stroke="#fff" stroke-width="0.3" textLength="33.1" lengthAdjust="spacingAndGlyphs">1.28485</text>
<rect x="1618" y="423" width="41" height="11" fill="#000000" shape-rendering="crispEdges"/>
<text x="1622.1" y="432" font-size="10" fill="#fff" stroke="#fff" stroke-width="0.3" textLength="33.1" lengthAdjust="spacingAndGlyphs">1.28385</text>
<rect x="1618" y="469" width="41" height="11" fill="#0000ff" shape-rendering="crispEdges"/>
<text x="1622.1" y="478" font-size="10" fill="#fff" stroke="#fff" stroke-width="0.3" textLength="33.1" lengthAdjust="spacingAndGlyphs">1.28150</text>
<rect x="1618" y="512" width="41" height="11" fill="#0000ff" shape-rendering="crispEdges"/>
<text x="1622.1" y="521" font-size="10" fill="#fff" stroke="#fff" stroke-width="0.3" textLength="33.1" lengthAdjust="spacingAndGlyphs">1.27941</text>
<text x="1619.8" y="602" font-size="10" fill="#000" stroke="#000" stroke-width="0.3" textLength="38.79" lengthAdjust="spacingAndGlyphs">0.002779</text>
<text x="1619.8" y="643" font-size="10" fill="#000" stroke="#000" stroke-width="0.3" textLength="18.1" lengthAdjust="spacingAndGlyphs">0.00</text>
<text x="1619.4" y="710" font-size="10" fill="#000" stroke="#000" stroke-width="0.3" textLength="42.11" lengthAdjust="spacingAndGlyphs">-0.004359</text>
<text x="1620.0" y="726" font-size="10" fill="#000" stroke="#000" stroke-width="0.3" textLength="15.52" lengthAdjust="spacingAndGlyphs">100</text>
<text x="1618.6" y="741" font-size="10" fill="#000" stroke="#000" stroke-width="0.3" textLength="10.34" lengthAdjust="spacingAndGlyphs">80</text>
<text x="1618.6" y="771" font-size="10" fill="#000" stroke="#000" stroke-width="0.3" textLength="10.34" lengthAdjust="spacingAndGlyphs">50</text>
<text x="1619.0" y="807" font-size="10" fill="#000" stroke="#000" stroke-width="0.3" textLength="10.34" lengthAdjust="spacingAndGlyphs">15</text>
<text x="1619.5" y="816" font-size="10" fill="#000" stroke="#000" stroke-width="0.3" textLength="5.17" lengthAdjust="spacingAndGlyphs">0</text>
<text x="4.2" y="832" font-size="10" fill="#000" stroke="#000" stroke-width="0.3" textLength="46.69" lengthAdjust="spacingAndGlyphs">17 Jul 2022</text>
<text x="68.2" y="832" font-size="10" fill="#000" stroke="#000" stroke-width="0.3" textLength="49.86" lengthAdjust="spacingAndGlyphs">18 Jul 12:00</text>
<text x="132.2" y="832" font-size="10" fill="#000" stroke="#000" stroke-width="0.3" textLength="49.86" lengthAdjust="spacingAndGlyphs">19 Jul 04:00</text>
<text x="196.2" y="832" font-size="10" fill="#000" stroke="#000" stroke-width="0.3" textLength="49.86" lengthAdjust="spacingAndGlyphs">19 Jul 20:00</text>
<text x="260.2" y="832" font-size="10" fill="#000" stroke="#000" stroke-width="0.3" textLength="49.86" lengthAdjust="spacingAndGlyphs">20 Jul 12:00</text>
<text x="324.2" y="832" font-size="10" fill="#000" stroke="#000" stroke-width="0.3" textLength="49.86" lengthAdjust="spacingAndGlyphs">21 Jul 04:00</text>
<text x="388.2" y="832" font-size="10" fill="#000" stroke="#000" stroke-width="0.3" textLength="49.86" lengthAdjust="spacingAndGlyphs">21 Jul 20:00</text>
<text x="452.2" y="832" font-size="10" fill="#000" stroke="#000" stroke-width="0.3" textLength="49.86" lengthAdjust="spacingAndGlyphs">22 Jul 12:00</text>
<text x="516.2" y="832" font-size="10" fill="#000" stroke="#000" stroke-width="0.3" textLength="49.86" lengthAdjust="spacingAndGlyphs">25 Jul 04:00</text>
<text x="580.2" y="832" font-size="10" fill="#000" stroke="#000" stroke-width="0.3" textLength="49.86" lengthAdjust="spacingAndGlyphs">25 Jul 20:00</text>
<text x="644.2" y="832" font-size="10" fill="#000" stroke="#000" stroke-width="0.3" textLength="49.86" lengthAdjust="spacingAndGlyphs">26 Jul 12:00</text>
<text x="708.2" y="832" font-size="10" fill="#000" stroke="#000" stroke-width="0.3" textLength="49.86" lengthAdjust="spacingAndGlyphs">27 Jul 04:00</text>
<text x="772.2" y="832" font-size="10" fill="#000" stroke="#000" stroke-width="0.3" textLength="49.86" lengthAdjust="spacingAndGlyphs">27 Jul 20:00</text>
<text x="836.2" y="832" font-size="10" fill="#000" stroke="#000" stroke-width="0.3" textLength="49.86" lengthAdjust="spacingAndGlyphs">28 Jul 12:00</text>
<text x="900.2" y="832" font-size="10" fill="#000" stroke="#000" stroke-width="0.3" textLength="49.86" lengthAdjust="spacingAndGlyphs">29 Jul 04:00</text>
<text x="964.2" y="832" font-size="10" fill="#000" stroke="#000" stroke-width="0.3" textLength="49.86" lengthAdjust="spacingAndGlyphs">31 Jul 23:00</text>
<text x="1028.2" y="832" font-size="10" fill="#000" stroke="#000" stroke-width="0.3" textLength="50.61" lengthAdjust="spacingAndGlyphs">1 Aug 12:00</text>
<text x="1092.2" y="832" font-size="10" fill="#000" stroke="#000" stroke-width="0.3" textLength="50.61" lengthAdjust="spacingAndGlyphs">2 Aug 04:00</text>
<text x="1156.2" y="832" font-size="10" fill="#000" stroke="#000" stroke-width="0.3" textLength="50.61" lengthAdjust="spacingAndGlyphs">2 Aug 20:00</text>
<text x="1220.2" y="832" font-size="10" fill="#000" stroke="#000" stroke-width="0.3" textLength="50.61" lengthAdjust="spacingAndGlyphs">3 Aug 12:00</text>
<defs><pattern id="chk" width="2" height="2" patternUnits="userSpaceOnUse"><rect width="2" height="2" fill="#ffffff"/><rect width="1" height="1" fill="#ececec"/><rect x="1" y="1" width="1" height="1" fill="#ececec"/></pattern><linearGradient id="gold" x1="0.3" y1="0" x2="0.45" y2="1"><stop offset="0" stop-color="#ffe85a"/><stop offset="0.55" stop-color="#e2aa1c"/><stop offset="0.8" stop-color="#f6d670"/><stop offset="1" stop-color="#c89416"/></linearGradient><linearGradient id="badge" x1="0" y1="0" x2="0" y2="1"><stop offset="0" stop-color="#ea5a3c"/><stop offset="1" stop-color="#d21a08"/></linearGradient><linearGradient id="clk" x1="0" y1="0" x2="0" y2="1"><stop offset="0" stop-color="#3a8ee6"/><stop offset="1" stop-color="#0b4aa8"/></linearGradient><linearGradient id="gplus" x1="0" y1="0" x2="0" y2="1"><stop offset="0" stop-color="#86f486"/><stop offset="1" stop-color="#14b814"/></linearGradient><linearGradient id="hat" x1="0" y1="0" x2="0" y2="1"><stop offset="0" stop-color="#8fd0f0"/><stop offset="1" stop-color="#3a8fc8"/></linearGradient><linearGradient id="gcan" x1="0" y1="0" x2="1" y2="0"><stop offset="0" stop-color="#30d030"/><stop offset="0.5" stop-color="#90f090"/><stop offset="1" stop-color="#20b020"/></linearGradient><radialGradient id="sig" cx="117.8" cy="9.9" r="8" gradientUnits="userSpaceOnUse"><stop offset="0" stop-color="#d8f0d8"/><stop offset="0.7" stop-color="#8fd08f"/><stop offset="1" stop-color="#3aa83a"/></radialGradient><linearGradient id="cloud" x1="0" y1="0" x2="0" y2="1"><stop offset="0" stop-color="#ffffff"/><stop offset="1" stop-color="#c4d2ea"/></linearGradient><linearGradient id="ring" x1="110" y1="4" x2="126" y2="15" gradientUnits="userSpaceOnUse"><stop offset="0" stop-color="#9cb8ea"/><stop offset="0.5" stop-color="#7a9ee2"/><stop offset="1" stop-color="#7ab88a"/></linearGradient><linearGradient id="bub" x1="0" y1="0" x2="0" y2="1"><stop offset="0" stop-color="#ffffff"/><stop offset="1" stop-color="#d2d4e2"/></linearGradient></defs>
<g id="toolbar">
<g shape-rendering="crispEdges">
<rect x="0" y="0" width="1664" height="22" fill="#f0f0f0"/>
<rect x="0" y="21" width="1664" height="1" fill="#f3f3f3"/>
<rect x="0" y="22" width="1663" height="1" fill="#b4b4b4"/>
<rect x="0" y="23" width="1663" height="1" fill="#6c6c6c"/>
<rect x="252" y="0" width="24" height="20" fill="url(#chk)"/>
<rect x="251" y="0" width="1" height="20" fill="#a0a0a0"/>
<rect x="252" y="20" width="25" height="1" fill="#ffffff"/>
<rect x="276" y="0" width="1" height="20" fill="#ffffff"/>
<rect x="404" y="0" width="24" height="20" fill="url(#chk)"/>
<rect x="403" y="0" width="1" height="20" fill="#a0a0a0"/>
<rect x="404" y="20" width="25" height="1" fill="#ffffff"/>
<rect x="428" y="0" width="1" height="20" fill="#ffffff"/>
<rect x="432" y="0" width="24" height="20" fill="url(#chk)"/>
<rect x="431" y="0" width="1" height="20" fill="#a0a0a0"/>
<rect x="432" y="20" width="25" height="1" fill="#ffffff"/>
<rect x="456" y="0" width="1" height="20" fill="#ffffff"/>
<rect x="592" y="0" width="24" height="20" fill="url(#chk)"/>
<rect x="591" y="0" width="1" height="20" fill="#a0a0a0"/>
<rect x="592" y="20" width="25" height="1" fill="#ffffff"/>
<rect x="616" y="0" width="1" height="20" fill="#ffffff"/>
<rect x="1038" y="0" width="24" height="20" fill="url(#chk)"/>
<rect x="1037" y="0" width="1" height="20" fill="#a0a0a0"/>
<rect x="1038" y="20" width="25" height="1" fill="#ffffff"/>
<rect x="1062" y="0" width="1" height="20" fill="#ffffff"/>
<rect x="308" y="0" width="1" height="20" fill="#a0a0a0"/>
<rect x="398" y="0" width="1" height="20" fill="#a0a0a0"/>
<rect x="460" y="0" width="1" height="20" fill="#a0a0a0"/>
<rect x="648" y="0" width="1" height="20" fill="#a0a0a0"/>
<rect x="213" y="0" width="1" height="22" fill="#a0a0a0"/>
<rect x="214" y="0" width="1" height="22" fill="#ffffff"/>
<rect x="581" y="0" width="1" height="22" fill="#a0a0a0"/>
<rect x="582" y="0" width="1" height="22" fill="#ffffff"/>
<rect x="887" y="0" width="1" height="22" fill="#a0a0a0"/>
<rect x="888" y="0" width="1" height="22" fill="#ffffff"/>
<rect x="1148" y="0" width="1" height="22" fill="#a0a0a0"/>
<rect x="1149" y="0" width="1" height="22" fill="#ffffff"/>
<rect x="217" y="0" width="3" height="1" fill="#a6a6a6"/>
<rect x="217" y="2" width="3" height="1" fill="#a6a6a6"/>
<rect x="217" y="4" width="3" height="1" fill="#a6a6a6"/>
<rect x="217" y="6" width="3" height="1" fill="#a6a6a6"/>
<rect x="217" y="8" width="3" height="1" fill="#a6a6a6"/>
<rect x="217" y="10" width="3" height="1" fill="#a6a6a6"/>
<rect x="217" y="12" width="3" height="1" fill="#a6a6a6"/>
<rect x="217" y="14" width="3" height="1" fill="#a6a6a6"/>
<rect x="217" y="16" width="3" height="1" fill="#a6a6a6"/>
<rect x="217" y="18" width="3" height="1" fill="#a6a6a6"/>
<rect x="585" y="0" width="3" height="1" fill="#a6a6a6"/>
<rect x="585" y="2" width="3" height="1" fill="#a6a6a6"/>
<rect x="585" y="4" width="3" height="1" fill="#a6a6a6"/>
<rect x="585" y="6" width="3" height="1" fill="#a6a6a6"/>
<rect x="585" y="8" width="3" height="1" fill="#a6a6a6"/>
<rect x="585" y="10" width="3" height="1" fill="#a6a6a6"/>
<rect x="585" y="12" width="3" height="1" fill="#a6a6a6"/>
<rect x="585" y="14" width="3" height="1" fill="#a6a6a6"/>
<rect x="585" y="16" width="3" height="1" fill="#a6a6a6"/>
<rect x="585" y="18" width="3" height="1" fill="#a6a6a6"/>
<rect x="891" y="0" width="3" height="1" fill="#a6a6a6"/>
<rect x="891" y="2" width="3" height="1" fill="#a6a6a6"/>
<rect x="891" y="4" width="3" height="1" fill="#a6a6a6"/>
<rect x="891" y="6" width="3" height="1" fill="#a6a6a6"/>
<rect x="891" y="8" width="3" height="1" fill="#a6a6a6"/>
<rect x="891" y="10" width="3" height="1" fill="#a6a6a6"/>
<rect x="891" y="12" width="3" height="1" fill="#a6a6a6"/>
<rect x="891" y="14" width="3" height="1" fill="#a6a6a6"/>
<rect x="891" y="16" width="3" height="1" fill="#a6a6a6"/>
<rect x="891" y="18" width="3" height="1" fill="#a6a6a6"/>
</g>
<rect x="-1" y="12.5" width="3.6" height="3" fill="#10c010" stroke="#0a7a0a" stroke-width="0.8"/>
<text class="cj" x="5.4" y="13.3" font-size="12" font-weight="500" fill="#000" textLength="36.6" lengthAdjust="spacingAndGlyphs">新订单</text>
<path d="M59.6 2.9Q57.9 7.9 54.2 11.9L60.5 17.6L69.9 12.6L69.3 10.5Z" fill="#a8700c"/><path d="M59.9 4Q58.6 7.9 55.3 11.7L60.9 15.8L68.9 11.2Z" fill="url(#gold)"/><path d="M56 12.6L60.9 16.5L69.4 12" fill="none" stroke="#f3dca0" stroke-width="0.8"/>
<path d="M84.4 3.6L87.8 4.8V12L84.4 11Z" fill="#1e90ff"/><path d="M85.2 4.2L86.4 4.6V11.4L85.2 11Z" fill="#9ad4ff"/><path d="M84.4 3.6L90.4 2.2L95.4 3.2L87.8 4.8Z" fill="#6cbcff"/><path d="M87.8 4.8L95.4 3.2V12H87.8Z" fill="#2a9af4"/><path d="M89.4 6.7L94 5.7V6.9L89.4 7.9Z" fill="#d6eeff"/><rect x="89.4" y="8.8" width="4.6" height="1" fill="#a8d8ff"/><path d="M84.6 17.4A2.5 2.5 0 0 1 84.2 12.5A2.2 2.2 0 0 1 86.6 11.6A3.2 3.2 0 0 1 92.4 11.2A2.4 2.4 0 0 1 96.2 13.2A2.2 2.2 0 0 1 95.6 17.4Z" fill="url(#cloud)" stroke="#5878b8" stroke-width="0.9"/>
<circle cx="118" cy="9.9" r="7.6" fill="#eef3fa" opacity="0.7"/><path d="M118 9.9L122 3.2A7.8 7.8 0 0 1 118 17.7Z" fill="url(#sig)" opacity="0.8"/><g fill="none" stroke="url(#ring)" stroke-width="1"><circle cx="118" cy="9.9" r="7.4"/><circle cx="118" cy="9.9" r="5"/><circle cx="118" cy="9.9" r="2.7"/></g><path d="M118.4 9.9V17.7" stroke="#1ea01e" stroke-width="1.3"/><circle cx="118" cy="9.7" r="1.5" fill="#2a5fd0"/>
<path d="M138 9L151.6 9L146 17.4Q144 18 142.6 16.4Z" fill="#f6d648" stroke="#c89a10" stroke-width="0.7"/><ellipse cx="145" cy="7.2" rx="7.8" ry="2.6" fill="url(#hat)" stroke="#2f7fb8" stroke-width="0.6"/><path d="M141 6.6Q141.4 2.2 145 2.2T149 6.6Z" fill="url(#hat)" stroke="#2f7fb8" stroke-width="0.6"/><circle cx="149.6" cy="13.9" r="4" fill="#e02a10"/><rect x="148.2" y="12.5" width="2.8" height="2.8" fill="#fff"/>
<text class="cj" x="157.6" y="13.3" font-size="12" font-weight="500" fill="#000" textLength="48.2" lengthAdjust="spacingAndGlyphs">自动交易</text>
<path d="M231.4 5.6V17.8M229.0 15.7H241.6" stroke="#505050" stroke-width="1.1" fill="none"/><path d="M229.70000000000002 6.6L231.4 4.2L233.1 6.6ZM240.8 14L243.20000000000002 15.7L240.8 17.4Z" fill="#505050"/>
<path d="M237.4 5.6V13.6M237.4 6.4H240M235 12.4H237.4" stroke="#109010" stroke-width="1.2" fill="none"/>
<path d="M259.3 5.6V17.8M256.90000000000003 15.7H269.5" stroke="#505050" stroke-width="1.1" fill="none"/><path d="M257.6 6.6L259.3 4.2L261.0 6.6ZM268.7 14L271.1 15.7L268.7 17.4Z" fill="#505050"/>
<path d="M265.5 2.3V13.6" stroke="#109010" stroke-width="1.1"/><rect x="263.3" y="4.4" width="4.4" height="7.4" fill="url(#gcan)" stroke="#109010" stroke-width="0.9"/>
<path d="M287.3 5.6V17.8M284.90000000000003 15.7H297.5" stroke="#505050" stroke-width="1.1" fill="none"/><path d="M285.6 6.6L287.3 4.2L289.0 6.6ZM296.7 14L299.1 15.7L296.7 17.4Z" fill="#505050"/>
<path d="M286 12.7Q290 7 292.2 7T297.9 11.2" stroke="#209020" stroke-width="1.1" fill="none"/>
<path d="M326.6 12.4L332.2 17.4" stroke="#a07800" stroke-width="3.4" stroke-linecap="butt"/><path d="M327.0 12.2L332.0 16.8" stroke="#f4d040" stroke-width="1.8" stroke-linecap="butt"/><circle cx="322.8" cy="7.9" r="5.3" fill="#d8effb" stroke="#2a74c8" stroke-width="1.1"/>
<path d="M319.8 7.9H325.8M322.8 4.9V10.9" stroke="#2f88b0" stroke-width="1.7" fill="none"/>
<path d="M354.7 12.4L360.29999999999995 17.4" stroke="#a07800" stroke-width="3.4" stroke-linecap="butt"/><path d="M355.09999999999997 12.2L360.09999999999997 16.8" stroke="#f4d040" stroke-width="1.8" stroke-linecap="butt"/><circle cx="350.9" cy="7.9" r="5.3" fill="#d8effb" stroke="#2a74c8" stroke-width="1.1"/>
<path d="M347.9 7.9H353.9" stroke="#2f88b0" stroke-width="1.7" fill="none"/>
<rect x="373" y="2.4" width="8" height="7.8" fill="#3aa020"/><rect x="373" y="2.4" width="8" height="2.2" fill="#2f8a18"/><rect x="373.9" y="3.2" width="0.9" height="0.9" fill="#fff" opacity="0.85"/><rect x="374.1" y="5.5" width="5.8" height="4" fill="#fff"/><rect x="375.4" y="6.800000000000001" width="3.2" height="0.8" fill="#3aa020" opacity="0.55"/><rect x="375.5" y="8.7" width="3" height="0.9" fill="#3aa020"/>
<rect x="381" y="2.4" width="8" height="7.8" fill="#2a5cd8"/><rect x="381" y="2.4" width="8" height="2.2" fill="#1a3fb0"/><rect x="381.9" y="3.2" width="0.9" height="0.9" fill="#fff" opacity="0.85"/><rect x="382.1" y="5.5" width="5.8" height="4" fill="#fff"/><rect x="383.4" y="6.800000000000001" width="3.2" height="0.8" fill="#2a5cd8" opacity="0.55"/><rect x="383.5" y="8.7" width="3" height="0.9" fill="#2a5cd8"/>
<rect x="373" y="10.2" width="8" height="7.8" fill="#2a5cd8"/><rect x="373" y="10.2" width="8" height="2.2" fill="#1a3fb0"/><rect x="373.9" y="11.0" width="0.9" height="0.9" fill="#fff" opacity="0.85"/><rect x="374.1" y="13.299999999999999" width="5.8" height="4" fill="#fff"/><rect x="375.4" y="14.6" width="3.2" height="0.8" fill="#2a5cd8" opacity="0.55"/><rect x="375.5" y="16.5" width="3" height="0.9" fill="#2a5cd8"/>
<rect x="381" y="10.2" width="8" height="7.8" fill="#3aa020"/><rect x="381" y="10.2" width="8" height="2.2" fill="#2f8a18"/><rect x="381.9" y="11.0" width="0.9" height="0.9" fill="#fff" opacity="0.85"/><rect x="382.1" y="13.299999999999999" width="5.8" height="4" fill="#fff"/><rect x="383.4" y="14.6" width="3.2" height="0.8" fill="#3aa020" opacity="0.55"/><rect x="383.5" y="16.5" width="3" height="0.9" fill="#3aa020"/>
<path d="M411.5 5.6V17.8M409.1 15.7H421.7" stroke="#505050" stroke-width="1.1" fill="none"/><path d="M409.8 6.6L411.5 4.2L413.2 6.6ZM420.9 14L423.3 15.7L420.9 17.4Z" fill="#505050"/>
<path d="M416.2 6L420.2 9.6L416.2 12.9Z" fill="#50d050" stroke="#109010" stroke-width="0.9"/>
<path d="M439.4 5.6V17.8M437.0 15.7H449.59999999999997" stroke="#505050" stroke-width="1.1" fill="none"/><path d="M437.7 6.6L439.4 4.2L441.09999999999997 6.6ZM448.79999999999995 14L451.2 15.7L448.79999999999995 17.4Z" fill="#505050"/>
<path d="M445.6 4V13.9" stroke="#1a6aa8" stroke-width="1.2"/><path d="M446.6 9.6H451.2M449.4 7.6L446.8 9.6L449.4 11.6" stroke="#e04a00" stroke-width="1.2" fill="none"/>
<path d="M470.5 3H478.5L481.5 6V15.4H470.5Z" fill="#fdfdfd" stroke="#8a8a8a" stroke-width="0.9"/><path d="M478.5 3V6H481.5" fill="#e0e0e0" stroke="#8a8a8a" stroke-width="0.7"/><path d="M473.4 5.6V13" stroke="#606060" stroke-width="0.9"/><path d="M478.1 8H481.7V12.1H485.8V15.7H481.7V19.8H478.1V15.7H474V12.1H478.1Z" fill="url(#gplus)" stroke="#0a8a0a" stroke-width="0.7"/>
<path d="M491.8 9H497.2L494.5 12.2Z" fill="#000"/>
<path d="M530.8 9H536.1999999999999L533.5 12.2Z" fill="#000"/>
<path d="M569.8 9H575.1999999999999L572.5 12.2Z" fill="#000"/>
<path d="M876 9H881.4L878.7 12.2Z" fill="#000"/>
<circle cx="516" cy="9.9" r="7.7" fill="url(#clk)"/><circle cx="516" cy="9.9" r="5.6" fill="#fafcff"/><path d="M516 6V9.9L518.4 10.6" stroke="#202020" stroke-width="0.95" fill="none"/><g fill="#7a8aa0"><rect x="515.7" y="4.8" width="0.6" height="0.9"/><rect x="515.7" y="14.1" width="0.6" height="0.9"/><rect x="510.9" y="9.6" width="0.9" height="0.6"/><rect x="520.2" y="9.6" width="0.9" height="0.6"/></g><path d="M514.6 12.4H517.4" stroke="#8fc0f0" stroke-width="0.9"/>
<rect x="547.6" y="3.4" width="15.2" height="13.2" fill="#fff" stroke="#3a78c8" stroke-width="1.1"/><rect x="548" y="3.6" width="14.4" height="2" fill="#5a9ae0"/><path d="M548 10.4H562.6" stroke="#3a78c8" stroke-width="0.9"/><path d="M549.6 9.4L551.6 9.2L554.6 7.4L556.6 8.4L558.6 8.2L560.8 7.2" stroke="#a01808" stroke-width="1.1" fill="none"/><path d="M549.6 14.4L552 13.4L554.4 14.4L557.4 12.2L559 12.8L561 14.6" stroke="#109020" stroke-width="1.1" fill="none"/>
<path d="M599.2 3V14L601.6 11.9L604.2 17L605.9 16.1L603.5 11.2L607.1 10.7Z" fill="#484848"/>
<path d="M631.5 3V9M631.5 11.8V17.8M624 10.4H630M633 10.4H639" stroke="#484848" stroke-width="1.1"/>
<path d="M665.4 4V17M688 10.4H699.8" stroke="#484848" stroke-width="1.1"/><path d="M715.8 16.9L727.8 4.8" stroke="#484848" stroke-width="1.1"/>
<path d="M741.8 11.8L749.8 4.2M743.4 15.9L756 5.4M747.4 16.6L755.4 9.2" stroke="#484848" stroke-width="1.15"/><path d="M744.8 13.6L747 8.4M747.4 12.4L749.8 6.6M750.4 11L753.4 3" stroke="#484848" stroke-width="0.9" stroke-dasharray="1 0.8"/>
<text x="752.4" y="18.9" font-size="7.4" font-weight="bold" fill="#333">E</text>
<path d="M771 3.4H784.2" stroke="#484848" stroke-width="0.9" stroke-dasharray="0.9 1"/>
<path d="M771 6.6H784.2" stroke="#484848" stroke-width="0.9" stroke-dasharray="0.9 1"/>
<path d="M771 10.6H784.2" stroke="#484848" stroke-width="0.9" stroke-dasharray="0.9 1"/>
<path d="M771 14.5H780" stroke="#484848" stroke-width="0.9" stroke-dasharray="0.9 1"/>
<text x="780.6" y="18.9" font-size="7.4" font-weight="bold" fill="#333">F</text>
<text x="801.2" y="15" font-size="12.6" fill="#505050" stroke="#505050" stroke-width="0.45">A</text>
<rect x="828.4" y="4.4" width="11.2" height="12" fill="none" stroke="#484848" stroke-width="0.9" stroke-dasharray="0.9 1"/><path d="M830.4 7.6H837.8M834.1 7.6V15" stroke="#505050" stroke-width="1.3"/>
<path d="M855 8.6L858.4 4.4L861.8 8.6Z M862 12.6H869L865.4 16.9Z" fill="#505050"/><path d="M857.2 11.8L859.6 13.6L863.8 8.3" stroke="#505050" stroke-width="1.4" fill="none"/>
<text x="902.2" y="14" font-size="9.8" fill="#3c3c3c" stroke="#3c3c3c" stroke-width="0.2" textLength="13.2" lengthAdjust="spacingAndGlyphs">M1</text>
<text x="930.2" y="14" font-size="9.8" fill="#3c3c3c" stroke="#3c3c3c" stroke-width="0.2" textLength="13.2" lengthAdjust="spacingAndGlyphs">M5</text>
<text x="956.2" y="14" font-size="9.8" fill="#3c3c3c" stroke="#3c3c3c" stroke-width="0.2" textLength="18.4" lengthAdjust="spacingAndGlyphs">M15</text>
<text x="984.3" y="14" font-size="9.8" fill="#3c3c3c" stroke="#3c3c3c" stroke-width="0.2" textLength="18.4" lengthAdjust="spacingAndGlyphs">M30</text>
<text x="1014.8" y="14" font-size="9.8" fill="#3c3c3c" stroke="#3c3c3c" stroke-width="0.2" textLength="12.6" lengthAdjust="spacingAndGlyphs">H1</text>
<text x="1042.2" y="14" font-size="9.8" fill="#3c3c3c" stroke="#3c3c3c" stroke-width="0.2" textLength="12.6" lengthAdjust="spacingAndGlyphs">H4</text>
<text x="1071" y="14" font-size="9.8" fill="#3c3c3c" stroke="#3c3c3c" stroke-width="0.2" textLength="12.4" lengthAdjust="spacingAndGlyphs">D1</text>
<text x="1099" y="14" font-size="9.8" fill="#3c3c3c" stroke="#3c3c3c" stroke-width="0.2" textLength="14.2" lengthAdjust="spacingAndGlyphs">W1</text>
<text x="1125.2" y="14" font-size="9.8" fill="#3c3c3c" stroke="#3c3c3c" stroke-width="0.2" textLength="15.4" lengthAdjust="spacingAndGlyphs">MN</text>
<path d="M1615.6 10.8L1611 15" stroke="#2a5cd0" stroke-width="2.4" stroke-linecap="round"/><circle cx="1618.6" cy="7.6" r="3.7" fill="#fff" stroke="#2a62d8" stroke-width="1.2"/>
<path d="M1637.4 15.6L1638.3 18.4L1641 16.4Z" fill="#d4d6e2" stroke="#a8a8b2" stroke-width="0.7"/><ellipse cx="1640.6" cy="12.4" rx="5.6" ry="4.5" fill="url(#bub)" stroke="#b4b4be" stroke-width="0.8"/><circle cx="1649.8" cy="7.6" r="8.1" fill="url(#badge)"/>
<text x="1649.6" y="12" font-size="12.4" fill="#fff" text-anchor="middle">1</text>
</g>
</svg></body></html>
